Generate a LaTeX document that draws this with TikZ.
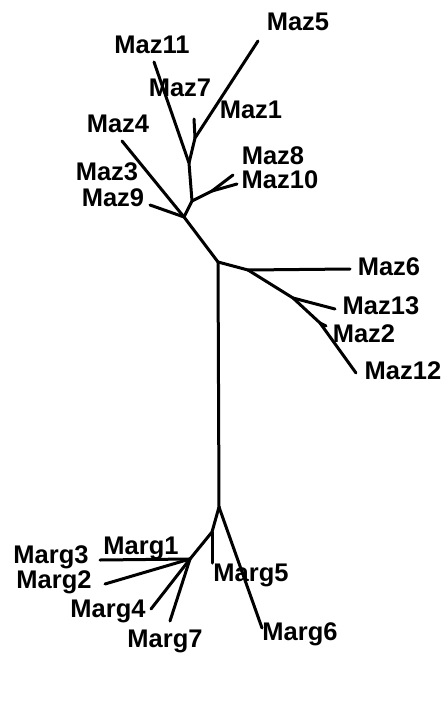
\documentclass[tikz,border=0pt]{standalone}
\usepackage{fontspec}
\setmainfont{Liberation Sans}
\begin{document}
\begin{tikzpicture}[x=1pt,y=-1pt,
  branch/.style={line width=3pt,line cap=round,line join=round},
  taxon/.style={font=\fontsize{25.5}{26}\selectfont\bfseries,inner sep=0pt}]
\useasboundingbox (0,0) rectangle (445,709);
% --- Maz cluster (upper) ---
\coordinate (t5) at (258,41);
\coordinate (j1) at (195,138);
\coordinate (t1) at (194,119);
\coordinate (t11) at (154,62);
\coordinate (jA) at (189,163);
\coordinate (jB) at (192,201);
\coordinate (j810) at (212,191);
\coordinate (t8) at (233,175);
\coordinate (t10) at (237,184);
\coordinate (jC) at (184,217);
\coordinate (t4) at (122,141);
\coordinate (t9) at (150,205);
\coordinate (jD) at (218,262);
% --- Maz cluster (right) ---
\coordinate (jE) at (248,270);
\coordinate (t6) at (350,269);
\coordinate (j13) at (293,298);
\coordinate (t13) at (335,309);
\coordinate (j2) at (320,323);
\coordinate (t2) at (326,326);
\coordinate (t12) at (356,373);
% --- Marg cluster ---
\coordinate (jF) at (219,507);
\coordinate (tg6) at (262,628);
\coordinate (j5) at (212,532);
\coordinate (tg5) at (212,563);
\coordinate (jG) at (190,559);
\coordinate (tg1) at (100,560);
\coordinate (tg2) at (105,584);
\coordinate (tg4) at (151,609);
\coordinate (tg7) at (170,621);

% branches
\draw[branch] (t5) -- (j1) -- (jA);
\draw[branch] (j1) -- (t1);
\draw[branch] (t11) -- (jA) -- (jB) -- (jC) -- (jD);
\draw[branch] (jB) -- (j810) -- (t8);
\draw[branch] (j810) -- (t10);
\draw[branch] (t4) -- (jC);
\draw[branch] (t9) -- (jC);
\draw[branch] (jD) -- (jE) -- (t6);
\draw[branch] (jE) -- (j13) -- (j2) -- (t12);
\draw[branch] (j13) -- (t13);
\draw[branch] (j2) -- (t2);
\draw[branch] (jD) -- (jF);
\draw[branch] (jF) -- (tg6);
\draw[branch] (jF) -- (j5) -- (jG);
\draw[branch] (j5) -- (tg5);
\draw[branch] (jG) -- (tg1);
\draw[branch] (jG) -- (tg2);
\draw[branch] (jG) -- (tg4);
\draw[branch] (jG) -- (tg7);

% taxon labels
\node[taxon] (lMaz5) at (298,22) {Maz5};
\node[taxon] (lMaz11) at (152,45) {Maz11};
\node[taxon] (lMaz7) at (180,88) {Maz7};
\node[taxon] (lMaz1) at (251,110) {Maz1};
\node[taxon] (lMaz4) at (118,124) {Maz4};
\node[taxon] (lMaz8) at (273,156) {Maz8};
\node[taxon] (lMaz10) at (280,180) {Maz10};
\node[taxon] (lMaz3) at (107,172) {Maz3};
\node[taxon] (lMaz9) at (113,198) {Maz9};
\node[taxon] (lMaz6) at (389,267) {Maz6};
\node[taxon] (lMaz13) at (381,306) {Maz13};
\node[taxon] (lMaz2) at (364,334) {Maz2};
\node[taxon] (lMaz12) at (403,371) {Maz12};
\node[taxon] (lMarg1) at (141,548) {Marg1};
\node[taxon] (lMarg3) at (51,557) {Marg3};
\node[taxon] (lMarg2) at (54,582) {Marg2};
\node[taxon] (lMarg4) at (108,611) {Marg4};
\node[taxon] (lMarg7) at (165,641) {Marg7};
\node[taxon] (lMarg5) at (251,575) {Marg5};
\node[taxon] (lMarg6) at (300,634) {Marg6};
\end{tikzpicture}
\end{document}
